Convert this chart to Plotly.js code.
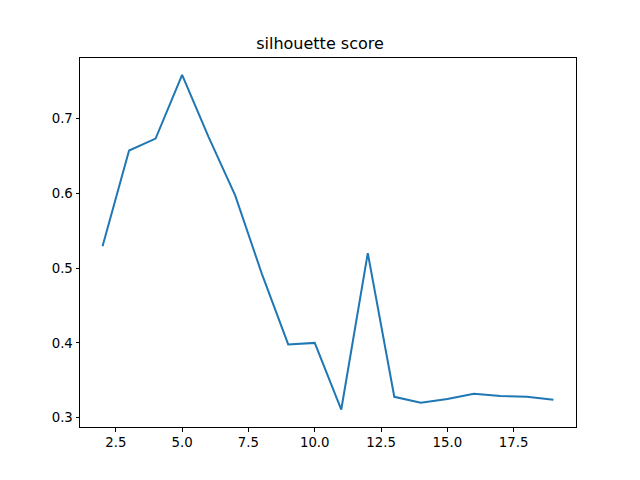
<!DOCTYPE html>
<html><head><meta charset="utf-8">
<script src="https://cdn.plot.ly/plotly-3.0.1.min.js"></script>
<style>html,body{margin:0;padding:0;background:#fff}#c{width:640px;height:480px}</style>
</head><body><div id="c"></div>
<script>
const nClusters = [2,3,4,5,6,7,8,9,10,11,12,13,14,15,16,17,18,19];
const silhouette = [0.529,0.657,0.673,0.758,0.675,0.597,0.493,0.398,0.400,0.311,0.520,0.328,0.320,0.325,0.332,0.329,0.328,0.324];
const xTicks = [2.5,5.0,7.5,10.0,12.5,15.0,17.5];
const xTickText = ['2.5','5.0','7.5','10.0','12.5','15.0','17.5'];
const yTicks = [0.3,0.4,0.5,0.6,0.7];
const yTickText = ['0.3','0.4','0.5','0.6','0.7'];

const axisCommon = {
  showline:true, linecolor:'#000', linewidth:1, mirror:true,
  ticks:'outside', ticklen:3.5, tickwidth:1, tickcolor:'#000',
  showgrid:false, zeroline:false,
  tickfont:{family:'DejaVu Sans', size:13.3, color:'#000'}
};
Plotly.newPlot('c', [{
  x:nClusters, y:silhouette, type:'scatter', mode:'lines',
  line:{color:'#1f77b4', width:2}
}], {
  width:640, height:480,
  margin:{l:80, r:64, t:57.6, b:52.8, pad:0},
  paper_bgcolor:'#fff', plot_bgcolor:'#fff',
  showlegend:false,
  title:{text:'silhouette score', font:{family:'DejaVu Sans', size:16, color:'#000'}, x:0.5, xanchor:'center', y:1-49/480, yanchor:'bottom'},
  xaxis:Object.assign({}, axisCommon, {range:[1.15,19.85], tickmode:'array', tickvals:xTicks, ticktext:xTickText}),
  yaxis:Object.assign({}, axisCommon, {range:[0.28765,0.78065], tickmode:'array', tickvals:yTicks, ticktext:yTickText})
}, {staticPlot:true, displayModeBar:false});
</script></body></html>
